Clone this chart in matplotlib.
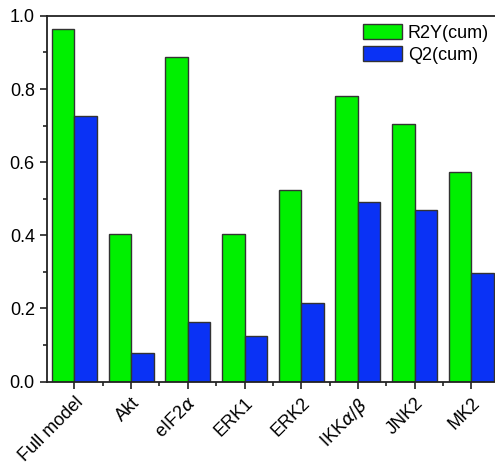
import numpy as np
import matplotlib
matplotlib.use("Agg")
import matplotlib.pyplot as plt
from matplotlib.ticker import MultipleLocator

plt.rcParams['font.family'] = ['Liberation Sans', 'DejaVu Sans']
plt.rcParams['mathtext.fontset'] = 'dejavusans'

# PLS model quality per removed signal
categories = ["Full model", "Akt", "eIF2$\\alpha$", "ERK1", "ERK2",
              "IKK$\\alpha/\\beta$", "JNK2", "MK2"]
r2y_cum = [0.964, 0.405, 0.887, 0.404, 0.523, 0.782, 0.705, 0.573]
q2_cum = [0.727, 0.077, 0.163, 0.124, 0.214, 0.492, 0.470, 0.297]

fig = plt.figure(figsize=(4.95, 4.66), dpi=100)
ax = fig.add_axes([0.0943, 0.181, 0.915, 0.785])

x = np.arange(len(categories))
w = 0.395
ax.bar(x - w / 2, r2y_cum, width=w, color='#00F000', edgecolor='#333333',
       linewidth=1.0, label='R2Y(cum)')
ax.bar(x + w / 2, q2_cum, width=w, color='#0A32F5', edgecolor='#333333',
       linewidth=1.0, label='Q2(cum)')

ax.set_xlim(-0.49, 7.5)
ax.set_ylim(0, 1.0)
ax.yaxis.set_major_locator(MultipleLocator(0.2))
ax.yaxis.set_minor_locator(MultipleLocator(0.1))
ax.set_yticklabels([f"{v:.1f}" for v in ax.get_yticks()])
ax.set_xticks(x)
ax.set_xticks(x[:-1] + 0.5, minor=True)
ax.set_xticklabels(categories, rotation=45, ha='right', rotation_mode='anchor')

ax.tick_params(axis='both', which='major', direction='out', length=5,
               width=1.2, labelsize=13, color='#222222')
ax.tick_params(axis='both', which='minor', direction='out', length=3,
               width=1.2, color='#222222')
ax.tick_params(axis='x', pad=4)
for s in ax.spines.values():
    s.set_linewidth(1.3)
    s.set_color('#222222')

ax.legend(loc='upper right', bbox_to_anchor=(489 / 495, 1 - 24 / 466),
          bbox_transform=fig.transFigure, frameon=False, fontsize=13,
          handlelength=2.2, handleheight=0.9, handletextpad=0.3,
          labelspacing=0.25, borderpad=0, borderaxespad=0)

fig.savefig("out.png", dpi=100)
